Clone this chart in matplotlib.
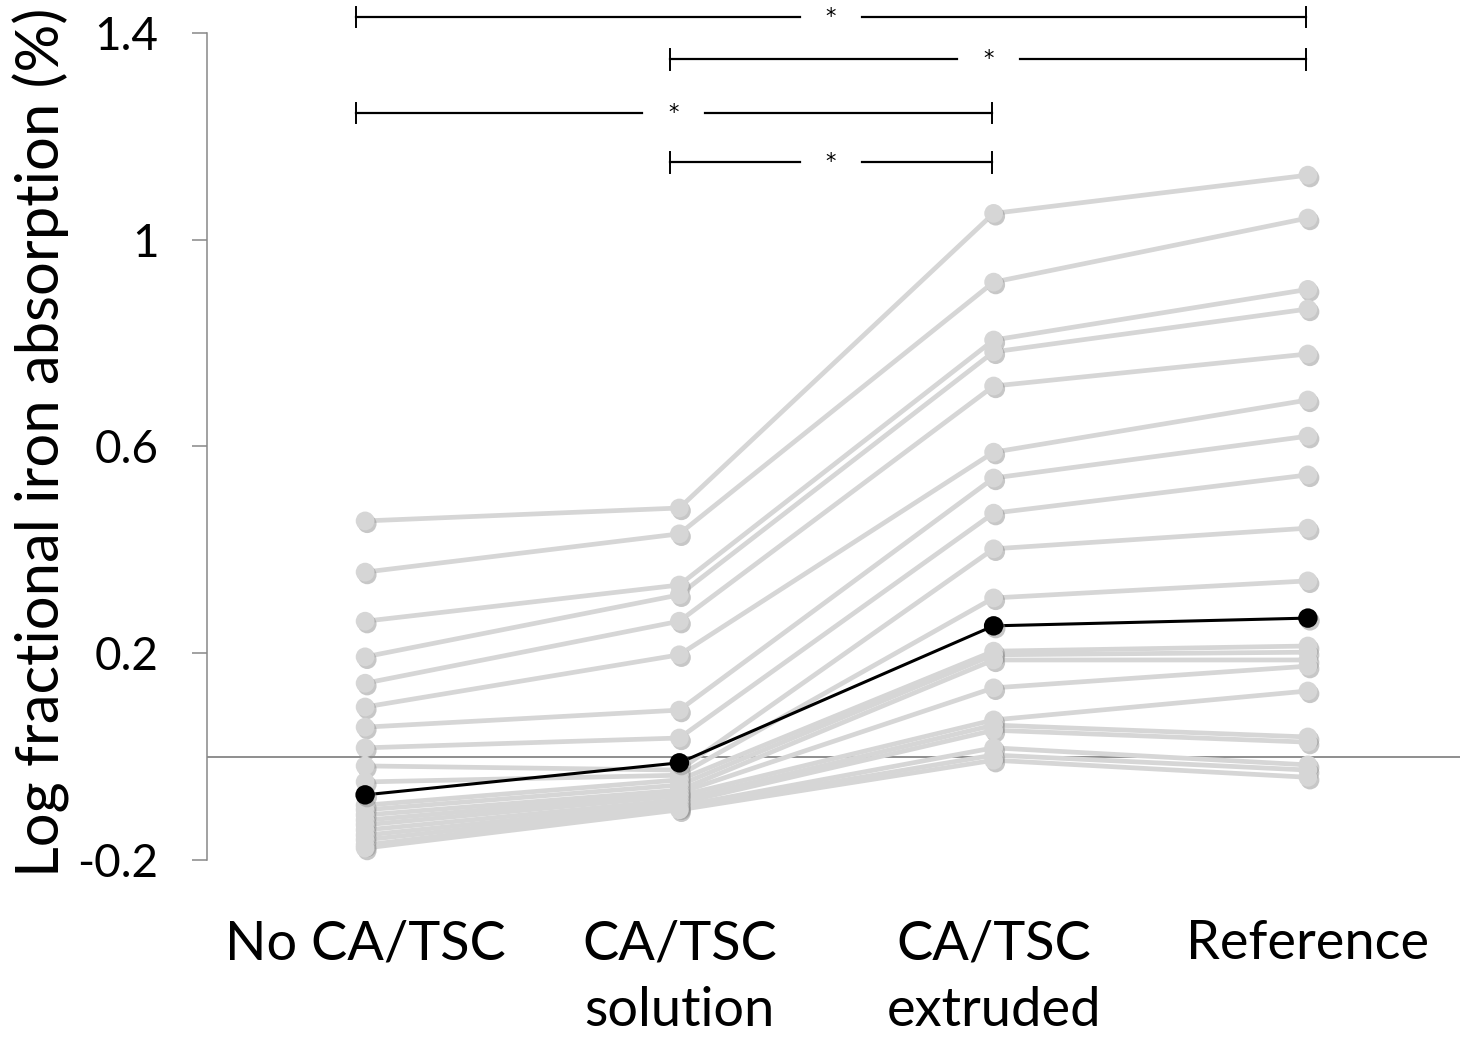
import matplotlib
matplotlib.use("Agg")
import matplotlib.pyplot as plt
import matplotlib.patheffects as pe

plt.rcParams['font.family'] = ['Lato', 'DejaVu Sans']

# ======= Data =======
groups = ["No CA/TSC", "CA/TSC\nsolution", "CA/TSC\nextruded", "Reference"]

# grey subjects, one list per condition (same subject order in every list)
no_catsc = [0.456, 0.357, 0.262, 0.193, 0.142, 0.096, 0.057, 0.017, -0.018, -0.049,
            -0.094, -0.103, -0.113, -0.123, -0.132, -0.142, -0.152, -0.161, -0.171, -0.177]
catsc_solution = [0.481, 0.431, 0.332, 0.313, 0.262, 0.197, 0.090, 0.036, -0.026, -0.036,
                  -0.045, -0.055, -0.065, -0.070, -0.076, -0.084, -0.090, -0.096, -0.099, -0.103]
catsc_extruded = [1.051, 0.918, 0.806, 0.783, 0.717, 0.589, 0.539, 0.471, 0.402, 0.307,
                  0.204, 0.197, 0.187, 0.133, 0.071, 0.061, 0.051, 0.017, 0.003, -0.007]
reference = [1.125, 1.042, 0.904, 0.866, 0.779, 0.690, 0.620, 0.545, 0.442, 0.340,
             0.214, 0.202, 0.187, 0.175, 0.127, 0.038, 0.028, -0.016, -0.026, -0.040]

# highlighted (black) subject
highlight = [-0.074, -0.012, 0.253, 0.268]

# significance brackets: (from group, to group)
brackets = [(0, 3), (1, 3), (0, 2), (1, 2)]
bracket_y = [1.431, 1.349, 1.245, 1.150]

yticks = [-0.2, 0.2, 0.6, 1, 1.4]
ytick_labels = ["-0.2", "0.2", "0.6", "1", "1.4"]

# ======= Plot =======
fig = plt.figure(figsize=(14.6, 10.38), dpi=100)
ax = fig.add_axes([0.1418, 0.1466, 0.8582, 0.8465])

x = list(range(len(groups)))
grey = "#d6d6d6"
shadow = [pe.SimplePatchShadow(offset=(1.5, -2), shadow_rgbFace="#909090", alpha=0.5), pe.Normal()]

ax.axhline(0, color="#707070", lw=1.1, zorder=1)

for i in range(len(no_catsc)):
    ys = [no_catsc[i], catsc_solution[i], catsc_extruded[i], reference[i]]
    ax.plot(x, ys, color=grey, lw=3.4, zorder=2, solid_capstyle="round")
for i in range(len(no_catsc)):
    ys = [no_catsc[i], catsc_solution[i], catsc_extruded[i], reference[i]]
    ax.plot(x, ys, ls="none", marker="o", ms=13.5, color=grey, mec="none", zorder=3,
            path_effects=shadow)

ax.plot(x, highlight, color="black", lw=2.2, zorder=4)
ax.plot(x, highlight, ls="none", marker="o", ms=14, color="black", mec="none", zorder=5,
        path_effects=shadow)

# brackets with stars
tick_h = 0.02
gap = 0.1
for (a, b), by in zip(brackets, bracket_y):
    x0 = a - 0.03
    x1 = b - 0.005
    mid = (x0 + x1) / 2
    ax.plot([x0, mid - gap], [by, by], color="black", lw=1.6, clip_on=False)
    ax.plot([mid + gap, x1], [by, by], color="black", lw=1.6, clip_on=False)
    ax.plot([x0, x0], [by - tick_h, by + tick_h], color="black", lw=1.4, clip_on=False)
    ax.plot([x1, x1], [by - tick_h, by + tick_h], color="black", lw=1.4, clip_on=False)
    ax.text(mid, by, "*", ha="center", va="center", fontsize=15, family="DejaVu Sans")

ax.set_xlim(-0.503, 3.484)
ax.set_ylim(-0.25, 1.45)

for s in ["top", "right", "bottom"]:
    ax.spines[s].set_visible(False)
ax.spines["left"].set_color("#888888")
ax.spines["left"].set_linewidth(1.1)
ax.spines["left"].set_bounds(-0.2, 1.4)

ax.set_yticks(yticks, ytick_labels)
ax.tick_params(axis="y", length=11, width=1.1, color="#888888", pad=24, labelsize=33)
ax.set_xticks(x, groups)
ax.tick_params(axis="x", length=0, pad=24, labelsize=39)
for lab in ax.get_xticklabels():
    lab.set_linespacing(1.45)
    lab.set_verticalalignment("top")

ax.set_ylabel("Log fractional iron absorption (%)", fontsize=43)
ax.yaxis.set_label_coords(-0.109, 0.505)

fig.savefig("out.png", dpi=100)
